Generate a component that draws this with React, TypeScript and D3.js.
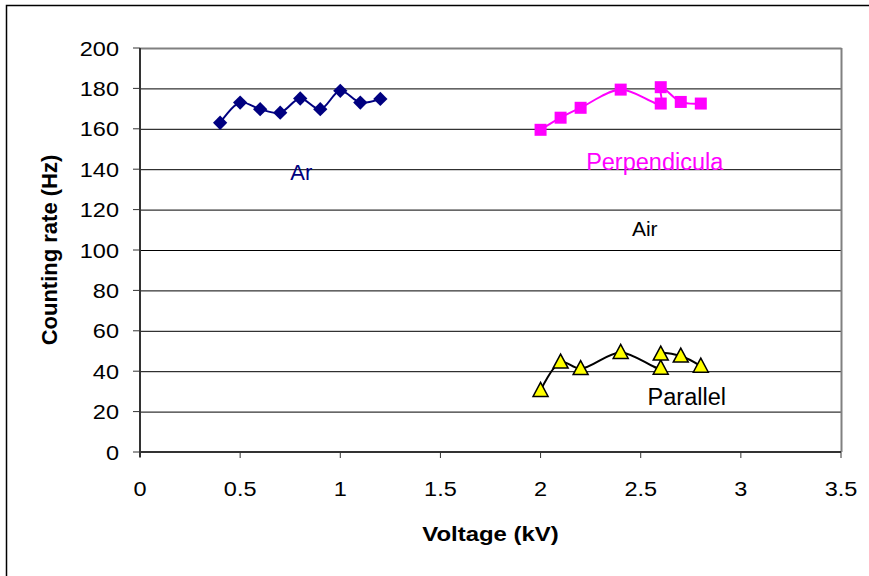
import { useMemo } from "react"
import * as d3 from "d3"

// Ar series
const arVoltage = [0.4, 0.5, 0.6, 0.7, 0.8, 0.9, 1.0, 1.1, 1.2]
const arRate = [163, 173, 169.7, 168, 175, 169.7, 178.8, 173, 174.8]

// Air, perpendicular
const perpVoltage = [2.0, 2.1, 2.2, 2.4, 2.6, 2.6, 2.7, 2.8]
const perpRate = [159.5, 165.5, 170.4, 179.4, 172.5, 180.6, 173.3, 172.5]

// Air, parallel
const parVoltage = [2.0, 2.1, 2.2, 2.4, 2.6, 2.6, 2.7, 2.8]
const parRate = [30.5, 44.5, 41.3, 49.3, 41.5, 48.5, 47.5, 42.5]

const xTicks = [0, 0.5, 1, 1.5, 2, 2.5, 3, 3.5]
const yTicks = [0, 20, 40, 60, 80, 100, 120, 140, 160, 180, 200]

const labels = [
  { text: "Ar", x: 0.805, y: 134.8, color: "#000080", size: 22 },
  { text: "Perpendicula", x: 2.57, y: 139.6, color: "#FF00FF", size: 23.5 },
  { text: "Air", x: 2.52, y: 107, color: "#000000", size: 21 },
  { text: "Parallel", x: 2.73, y: 23.4, color: "#000000", size: 23.5 },
]

const W = 869
const H = 576
const margin = { top: 48, right: 28, bottom: 124, left: 140 }
const font = "Arial, 'Liberation Sans', sans-serif"

export default function App() {
  const innerW = W - margin.left - margin.right
  const innerH = H - margin.top - margin.bottom

  const x = useMemo(() => d3.scaleLinear().domain([0, 3.5]).range([0, innerW]), [innerW])
  const y = useMemo(() => d3.scaleLinear().domain([0, 200]).range([innerH, 0]), [innerH])

  const line = d3
    .line<[number, number]>()
    .x((d) => x(d[0]))
    .y((d) => y(d[1]))
    .curve(d3.curveCatmullRom.alpha(0.5))

  const ar = arVoltage.map((v, i) => [v, arRate[i]] as [number, number])
  const perp = perpVoltage.map((v, i) => [v, perpRate[i]] as [number, number])
  const par = parVoltage.map((v, i) => [v, parRate[i]] as [number, number])

  const diamond = d3.symbol(d3.symbolDiamond2, 130)()
  const tri = "M0,-8L7.5,6L-7.5,6Z"

  return (
    <div style={{ position: "absolute", left: 0, top: 0 }}>
      <svg width={W} height={H} style={{ display: "block", background: "#fff" }}>
        <rect x={6.5} y={5.5} width={W + 20} height={H + 20} fill="none" stroke="#000" strokeWidth={1.5} />
        <g transform={`translate(${margin.left},${margin.top})`}>
          {/* grid */}
          {yTicks.slice(1, -1).map((t) => (
            <line key={t} x1={0} x2={innerW} y1={y(t) + 0.5} y2={y(t) + 0.5} stroke="#000" strokeWidth={1} />
          ))}
          {/* plot border */}
          <line x1={0} x2={innerW + 0.5} y1={0.5} y2={0.5} stroke="#808080" strokeWidth={2} />
          <line x1={innerW + 0.5} x2={innerW + 0.5} y1={0} y2={innerH} stroke="#808080" strokeWidth={2} />
          {/* axes */}
          <line x1={0} x2={0} y1={0} y2={innerH + 5} stroke="#333" strokeWidth={2} />
          <line x1={0} x2={innerW} y1={innerH} y2={innerH} stroke="#333" strokeWidth={2} />
          {yTicks.map((t) => (
            <g key={t} transform={`translate(0,${y(t)})`}>
              <line x1={-7} x2={0} stroke="#333" strokeWidth={1} />
              <text
                x={-21}
                dy={7.5}
                textAnchor="end"
                fontFamily={font}
                fontSize={21}
                transform="scale(1.12,1)"
                style={{ transformBox: "fill-box", transformOrigin: "right" }}
              >
                {t}
              </text>
            </g>
          ))}
          {xTicks.map((t) => (
            <g key={t} transform={`translate(${x(t)},${innerH})`}>
              <line y1={0} y2={6} stroke="#333" strokeWidth={1} />
              <text
                y={44}
                textAnchor="middle"
                fontFamily={font}
                fontSize={21}
                style={{ transformBox: "fill-box", transformOrigin: "center", transform: "scaleX(1.12)" }}
              >
                {t}
              </text>
            </g>
          ))}
          {/* series */}
          <path d={line(ar) ?? ""} fill="none" stroke="#000080" strokeWidth={2} />
          {ar.map((d, i) => (
            <path key={i} d={diamond ?? ""} transform={`translate(${x(d[0])},${y(d[1])})`} fill="#000080" />
          ))}
          <path d={line(perp) ?? ""} fill="none" stroke="#FF00FF" strokeWidth={2} />
          {perp.map((d, i) => (
            <rect key={i} x={x(d[0]) - 6} y={y(d[1]) - 6} width={12} height={12} fill="#FF00FF" />
          ))}
          <path d={line(par) ?? ""} fill="none" stroke="#000" strokeWidth={2} />
          {par.map((d, i) => (
            <path
              key={i}
              d={tri}
              transform={`translate(${x(d[0])},${y(d[1])})`}
              fill="#FFFF00"
              stroke="#000"
              strokeWidth={1.5}
            />
          ))}
          {labels.map((l) => (
            <text
              key={l.text}
              x={x(l.x)}
              y={y(l.y)}
              textAnchor="middle"
              fontFamily={font}
              fontSize={l.size}
              fill={l.color}
            >
              {l.text}
            </text>
          ))}
        </g>
        <text
          x={margin.left + innerW / 2}
          y={541}
          textAnchor="middle"
          fontFamily={font}
          fontSize={21}
          fontWeight="bold"
          style={{ transformBox: "fill-box", transformOrigin: "center", transform: "scaleX(1.14)" }}
        >
          Voltage (kV)
        </text>
        <text
          transform={`translate(57,${margin.top + innerH / 2}) rotate(-90)`}
          textAnchor="middle"
          fontFamily={font}
          fontSize={22}
          fontWeight="bold"
        >
          Counting rate (Hz)
        </text>
      </svg>
    </div>
  )
}
